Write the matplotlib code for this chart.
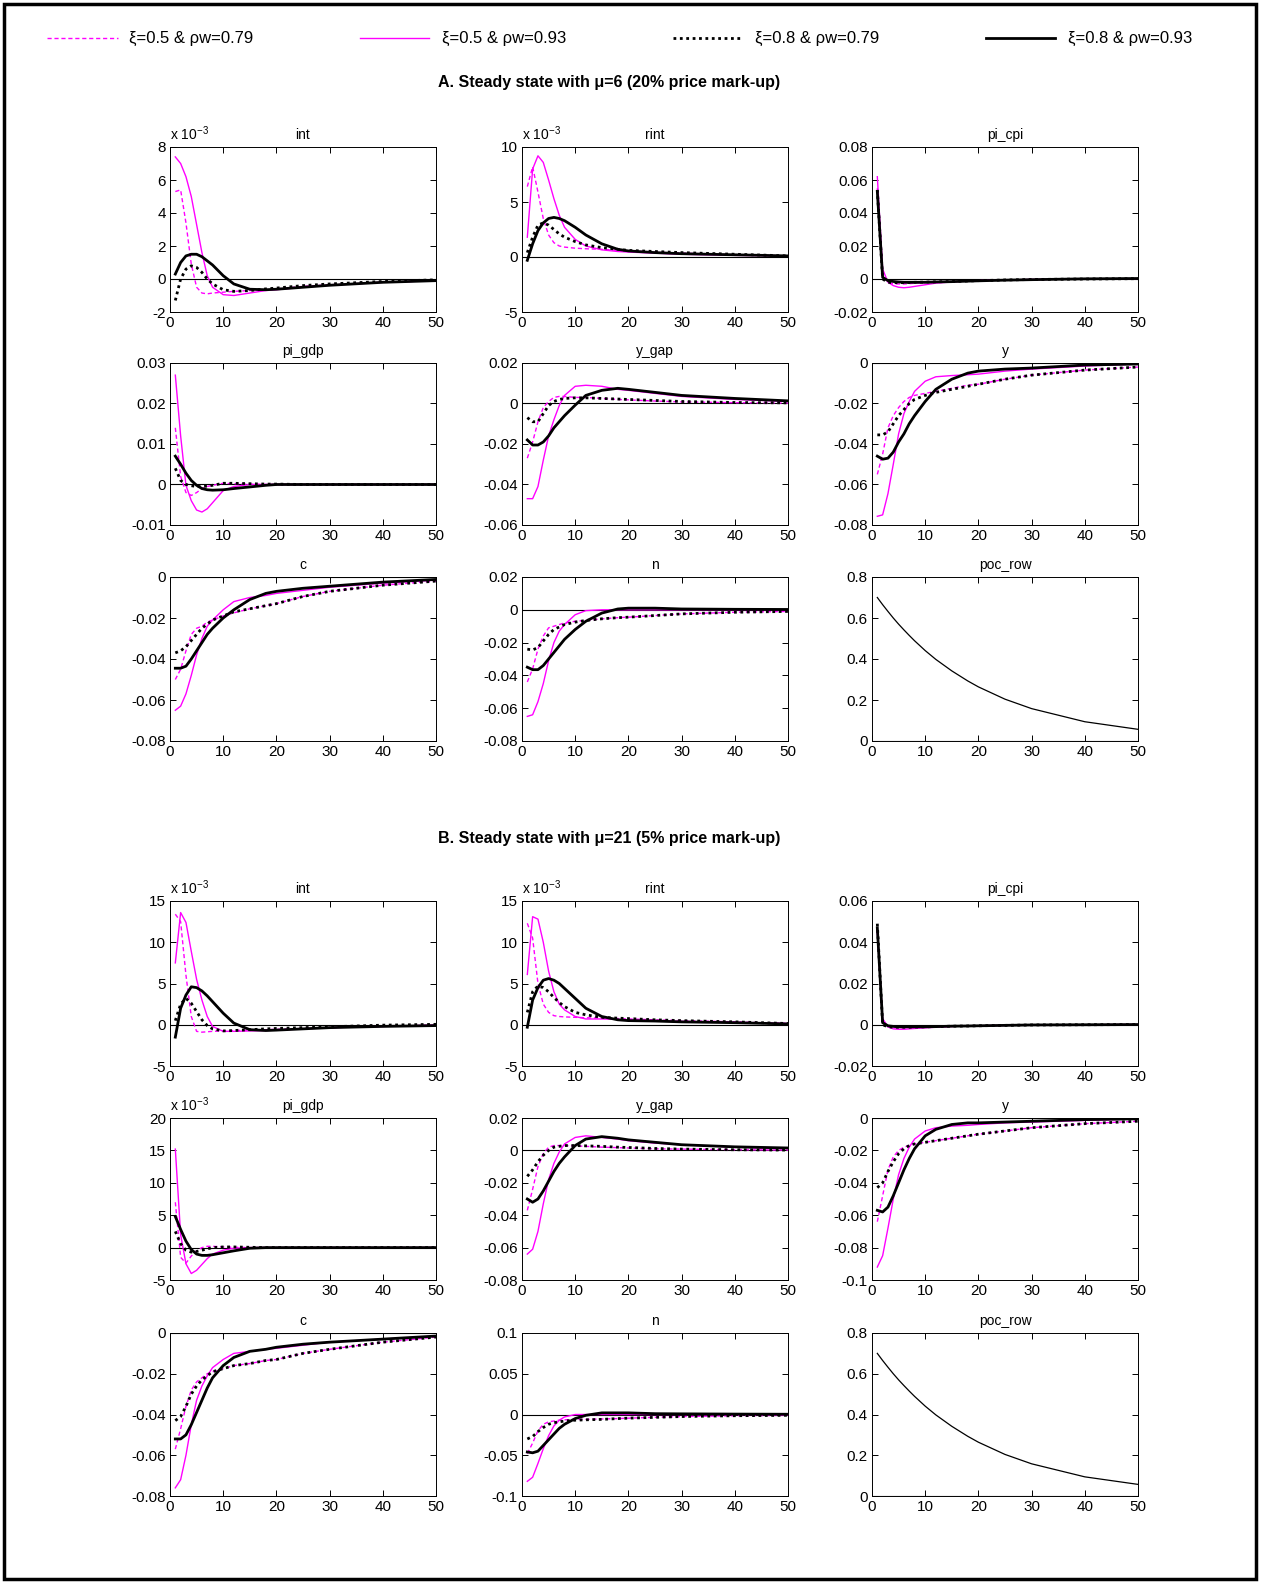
import matplotlib
matplotlib.use("Agg")
import matplotlib.pyplot as plt
from matplotlib.lines import Line2D
from matplotlib.patches import Rectangle
from matplotlib.ticker import FuncFormatter

plt.rcParams['font.family'] = ['Liberation Sans', 'DejaVu Sans']
plt.rcParams['mathtext.fontset'] = 'custom'
plt.rcParams['mathtext.rm'] = 'Liberation Sans'

T = [1, 2, 3, 4, 5, 6, 7, 8, 10, 12, 15, 18, 20, 25, 30, 40, 50]

labels = ["ξ=0.5 & ρw=0.79", "ξ=0.5 & ρw=0.93", "ξ=0.8 & ρw=0.79", "ξ=0.8 & ρw=0.93"]

# ---- A. mu=6 ----
a_int_m79 = [5.3, 5.4, 3.4, 0.9, -0.5, -0.85, -0.9, -0.85, -0.8, -0.75, -0.7, -0.65, -0.6, -0.45, -0.35, -0.2, -0.1]
a_int_m93 = [7.4, 7.0, 6.2, 5.0, 3.3, 1.6, 0.2, -0.5, -0.95, -1.0, -0.85, -0.7, -0.65, -0.5, -0.38, -0.2, -0.1]
a_int_b79 = [-1.3, 0.0, 0.6, 0.8, 0.7, 0.4, 0.0, -0.3, -0.65, -0.75, -0.7, -0.6, -0.55, -0.4, -0.3, -0.15, -0.05]
a_int_b93 = [0.3, 1.0, 1.4, 1.5, 1.5, 1.35, 1.1, 0.85, 0.2, -0.3, -0.62, -0.65, -0.62, -0.5, -0.38, -0.2, -0.1]

a_rint_m79 = [6.4, 8.2, 5.9, 3.5, 2.0, 1.3, 1.0, 0.9, 0.8, 0.75, 0.7, 0.6, 0.55, 0.45, 0.35, 0.2, 0.1]
a_rint_m93 = [1.8, 8.0, 9.2, 8.6, 7.0, 5.3, 3.8, 2.7, 1.6, 1.0, 0.65, 0.5, 0.45, 0.35, 0.25, 0.15, 0.1]
a_rint_b79 = [0.4, 1.8, 2.9, 3.1, 2.9, 2.5, 2.1, 1.8, 1.4, 1.1, 0.85, 0.7, 0.6, 0.5, 0.4, 0.25, 0.1]
a_rint_b93 = [-0.3, 1.2, 2.4, 3.1, 3.5, 3.6, 3.5, 3.3, 2.7, 2.0, 1.2, 0.7, 0.55, 0.4, 0.3, 0.2, 0.1]

a_cpi_m79 = [0.055, 0.002, -0.002, -0.003, -0.003, -0.003, -0.0028, -0.0026, -0.0022, -0.0019, -0.0015, -0.0012, -0.001, -0.0006, -0.0003, 0.0, 0.0002]
a_cpi_m93 = [0.062, 0.006, -0.002, -0.004, -0.005, -0.0053, -0.005, -0.0045, -0.0035, -0.0025, -0.0018, -0.0012, -0.001, -0.0006, -0.0003, 0.0, 0.0002]
a_cpi_b79 = [0.054, 0.0, -0.002, -0.0022, -0.0022, -0.0022, -0.0021, -0.002, -0.0019, -0.0017, -0.0015, -0.0012, -0.001, -0.0006, -0.0003, 0.0, 0.0002]
a_cpi_b93 = [0.053, 0.001, -0.001, -0.0015, -0.0018, -0.002, -0.002, -0.002, -0.002, -0.0018, -0.0016, -0.0013, -0.0011, -0.0007, -0.0004, 0.0001, 0.0003]

a_gdp_m79 = [0.014, 0.002, -0.002, -0.0027, -0.002, -0.001, -0.0005, -0.0002, 0.0003, 0.0002, 0.0001, 0.0, 0.0, 0.0, 0.0, 0.0, 0.0]
a_gdp_m93 = [0.027, 0.012, -0.0002, -0.004, -0.0063, -0.0068, -0.006, -0.0045, -0.0015, -0.0005, 0.0, 0.0, 0.0, 0.0, 0.0, 0.0, 0.0]
a_gdp_b79 = [0.004, 0.001, 0.0, -0.0003, -0.0005, -0.0005, -0.0004, -0.0002, 0.0003, 0.0003, 0.0002, 0.0001, 0.0001, 0.0, 0.0, 0.0, 0.0]
a_gdp_b93 = [0.007, 0.005, 0.0028, 0.001, -0.0002, -0.001, -0.0013, -0.0014, -0.0013, -0.001, -0.0006, -0.0002, 0.0, 0.0, 0.0, 0.0, 0.0]

a_ygap_m79 = [-0.027, -0.019, -0.009, -0.002, 0.001, 0.003, 0.0035, 0.0035, 0.003, 0.003, 0.0025, 0.002, 0.0018, 0.0012, 0.0008, 0.0004, 0.0002]
a_ygap_m93 = [-0.047, -0.047, -0.041, -0.028, -0.016, -0.008, -0.001, 0.004, 0.0085, 0.009, 0.0085, 0.007, 0.0065, 0.005, 0.0035, 0.002, 0.001]
a_ygap_b79 = [-0.007, -0.009, -0.009, -0.005, -0.001, 0.001, 0.002, 0.0025, 0.0028, 0.0028, 0.0025, 0.0022, 0.002, 0.0015, 0.001, 0.0005, 0.0003]
a_ygap_b93 = [-0.018, -0.0205, -0.0205, -0.019, -0.016, -0.012, -0.009, -0.006, -0.0008, 0.004, 0.0065, 0.0075, 0.007, 0.0055, 0.004, 0.0025, 0.0013]

a_y_m79 = [-0.055, -0.045, -0.032, -0.026, -0.022, -0.019, -0.017, -0.016, -0.015, -0.014, -0.0125, -0.011, -0.0105, -0.008, -0.006, -0.0035, -0.002]
a_y_m93 = [-0.0757, -0.075, -0.0645, -0.050, -0.035, -0.025, -0.019, -0.014, -0.009, -0.0068, -0.0062, -0.0058, -0.0055, -0.004, -0.003, -0.0015, -0.0005]
a_y_b79 = [-0.0355, -0.0355, -0.034, -0.030, -0.026, -0.023, -0.020, -0.018, -0.016, -0.0145, -0.013, -0.0115, -0.0105, -0.008, -0.006, -0.0035, -0.002]
a_y_b93 = [-0.046, -0.0475, -0.047, -0.044, -0.039, -0.035, -0.030, -0.026, -0.019, -0.013, -0.008, -0.005, -0.004, -0.003, -0.0025, -0.001, -0.0005]

a_c_m79 = [-0.050, -0.045, -0.036, -0.028, -0.025, -0.024, -0.022, -0.021, -0.019, -0.0175, -0.0155, -0.014, -0.013, -0.0095, -0.007, -0.004, -0.002]
a_c_m93 = [-0.065, -0.063, -0.057, -0.048, -0.038, -0.030, -0.024, -0.021, -0.016, -0.012, -0.010, -0.009, -0.008, -0.0065, -0.005, -0.003, -0.0015]
a_c_b79 = [-0.037, -0.036, -0.034, -0.031, -0.028, -0.025, -0.023, -0.021, -0.019, -0.017, -0.0155, -0.014, -0.013, -0.0095, -0.007, -0.004, -0.002]
a_c_b93 = [-0.0445, -0.0445, -0.0435, -0.040, -0.036, -0.032, -0.028, -0.025, -0.020, -0.016, -0.011, -0.008, -0.007, -0.0055, -0.0045, -0.0025, -0.0012]

a_n_m79 = [-0.044, -0.036, -0.024, -0.016, -0.011, -0.010, -0.009, -0.008, -0.007, -0.0065, -0.0055, -0.0048, -0.0045, -0.0035, -0.0025, -0.0015, -0.001]
a_n_m93 = [-0.065, -0.064, -0.056, -0.045, -0.031, -0.020, -0.013, -0.009, -0.003, -0.0005, 0.0, 0.0, 0.0, 0.0, 0.0, 0.0, 0.0]
a_n_b79 = [-0.024, -0.0245, -0.023, -0.019, -0.015, -0.012, -0.0105, -0.009, -0.0075, -0.0065, -0.0055, -0.0048, -0.0045, -0.0035, -0.0025, -0.0015, -0.001]
a_n_b93 = [-0.035, -0.0365, -0.0365, -0.034, -0.030, -0.026, -0.022, -0.018, -0.012, -0.007, -0.002, 0.0005, 0.001, 0.001, 0.0005, 0.0003, 0.0002]

poc_row = [0.70, 0.665, 0.632, 0.600, 0.570, 0.542, 0.515, 0.489, 0.441, 0.398, 0.342, 0.293, 0.264, 0.204, 0.158, 0.094, 0.057]

# ---- B. mu=21 ----
b_int_m79 = [13.4, 12.5, 6.0, 1.0, -0.8, -0.9, -0.85, -0.8, -0.75, -0.7, -0.65, -0.6, -0.55, -0.45, -0.35, -0.2, -0.05]
b_int_m93 = [7.5, 13.6, 12.4, 8.9, 5.5, 3.0, 1.0, -0.2, -0.8, -0.8, -0.75, -0.7, -0.65, -0.5, -0.35, -0.2, -0.05]
b_int_b79 = [0.5, 2.5, 3.2, 2.6, 1.6, 0.6, -0.1, -0.5, -0.75, -0.7, -0.6, -0.5, -0.45, -0.35, -0.25, -0.05, 0.05]
b_int_b93 = [-1.5, 2.0, 3.6, 4.6, 4.5, 4.1, 3.5, 2.8, 1.4, 0.2, -0.6, -0.7, -0.65, -0.5, -0.35, -0.2, -0.1]

b_rint_m79 = [12.3, 10.5, 5.0, 2.5, 1.5, 1.1, 1.0, 0.95, 0.9, 0.85, 0.8, 0.75, 0.7, 0.6, 0.5, 0.35, 0.15]
b_rint_m93 = [6.1, 13.1, 12.8, 10.0, 6.5, 4.0, 2.5, 1.8, 1.0, 0.7, 0.7, 0.65, 0.6, 0.5, 0.4, 0.3, 0.15]
b_rint_b79 = [1.5, 4.0, 4.7, 4.5, 4.0, 3.3, 2.7, 2.2, 1.5, 1.2, 0.9, 0.8, 0.75, 0.6, 0.5, 0.35, 0.15]
b_rint_b93 = [-0.3, 3.0, 4.5, 5.4, 5.6, 5.4, 5.0, 4.4, 3.2, 2.0, 1.0, 0.6, 0.5, 0.45, 0.35, 0.25, 0.1]

b_cpi_m79 = [0.045, 0.001, -0.001, -0.0015, -0.0015, -0.0015, -0.0014, -0.0013, -0.0012, -0.001, -0.0008, -0.0006, -0.0005, -0.0003, -0.0001, 0.0, 0.0001]
b_cpi_m93 = [0.046, 0.003, -0.001, -0.002, -0.0022, -0.0022, -0.002, -0.0018, -0.0015, -0.0012, -0.0008, -0.0006, -0.0005, -0.0003, -0.0001, 0.0, 0.0001]
b_cpi_b79 = [0.049, 0.0, -0.001, -0.0012, -0.0012, -0.0012, -0.0012, -0.0011, -0.001, -0.0009, -0.0007, -0.0006, -0.0005, -0.0003, -0.0001, 0.0, 0.0001]
b_cpi_b93 = [0.047, 0.001, -0.0005, -0.0008, -0.001, -0.001, -0.001, -0.001, -0.001, -0.0009, -0.0007, -0.0006, -0.0005, -0.0003, -0.0001, 0.0, 0.0001]

b_gdp_m79 = [7.0, -1.5, -2.4, -1.3, -0.5, 0.0, 0.2, 0.2, 0.1, 0.05, 0.0, 0.0, 0.0, 0.0, 0.0, 0.0, 0.0]
b_gdp_m93 = [15.2, 2.0, -2.5, -4.0, -3.5, -2.6, -1.7, -1.0, -0.4, -0.1, 0.0, 0.0, 0.0, 0.0, 0.0, 0.0, 0.0]
b_gdp_b79 = [2.5, 0.6, -0.4, -0.7, -0.6, -0.4, -0.2, 0.0, 0.1, 0.1, 0.05, 0.0, 0.0, 0.0, 0.0, 0.0, 0.0]
b_gdp_b93 = [4.8, 2.8, 1.0, -0.3, -1.0, -1.2, -1.2, -1.1, -0.8, -0.5, -0.1, 0.0, 0.0, 0.0, 0.0, 0.0, 0.0]

b_ygap_m79 = [-0.037, -0.024, -0.010, -0.002, 0.002, 0.003, 0.003, 0.003, 0.0028, 0.0025, 0.002, 0.0017, 0.0015, 0.001, 0.0008, 0.0004, 0.0002]
b_ygap_m93 = [-0.064, -0.061, -0.050, -0.033, -0.018, -0.008, -0.001, 0.004, 0.008, 0.009, 0.008, 0.007, 0.006, 0.0045, 0.0035, 0.002, 0.001]
b_ygap_b79 = [-0.016, -0.012, -0.007, -0.003, 0.0, 0.002, 0.0025, 0.003, 0.003, 0.0028, 0.0025, 0.002, 0.0018, 0.0012, 0.0008, 0.0004, 0.0002]
b_ygap_b93 = [-0.030, -0.032, -0.030, -0.025, -0.019, -0.013, -0.008, -0.004, 0.003, 0.007, 0.0085, 0.0075, 0.0065, 0.005, 0.0035, 0.0022, 0.0015]

b_y_m79 = [-0.064, -0.048, -0.032, -0.024, -0.020, -0.018, -0.017, -0.016, -0.015, -0.014, -0.0125, -0.011, -0.010, -0.008, -0.006, -0.0035, -0.002]
b_y_m93 = [-0.092, -0.085, -0.068, -0.050, -0.035, -0.025, -0.018, -0.013, -0.008, -0.006, -0.005, -0.0045, -0.004, -0.003, -0.0025, -0.0015, -0.0005]
b_y_b79 = [-0.043, -0.040, -0.033, -0.027, -0.022, -0.019, -0.017, -0.016, -0.015, -0.014, -0.0125, -0.011, -0.010, -0.008, -0.006, -0.0035, -0.002]
b_y_b93 = [-0.057, -0.058, -0.055, -0.048, -0.040, -0.032, -0.025, -0.019, -0.011, -0.007, -0.004, -0.003, -0.003, -0.0025, -0.002, -0.001, -0.0005]

b_c_m79 = [-0.057, -0.047, -0.036, -0.028, -0.024, -0.022, -0.020, -0.019, -0.0175, -0.016, -0.015, -0.0135, -0.013, -0.010, -0.008, -0.0045, -0.002]
b_c_m93 = [-0.076, -0.072, -0.060, -0.045, -0.033, -0.026, -0.021, -0.017, -0.013, -0.010, -0.009, -0.008, -0.0075, -0.006, -0.0045, -0.003, -0.0015]
b_c_b79 = [-0.043, -0.041, -0.036, -0.030, -0.026, -0.023, -0.021, -0.019, -0.0175, -0.016, -0.015, -0.0135, -0.013, -0.010, -0.008, -0.0045, -0.002]
b_c_b93 = [-0.052, -0.052, -0.050, -0.045, -0.039, -0.033, -0.027, -0.022, -0.016, -0.012, -0.009, -0.008, -0.007, -0.0055, -0.0045, -0.003, -0.0015]

b_n_m79 = [-0.048, -0.035, -0.020, -0.012, -0.009, -0.008, -0.007, -0.0065, -0.006, -0.006, -0.0055, -0.005, -0.0045, -0.0035, -0.0025, -0.0015, -0.001]
b_n_m93 = [-0.082, -0.077, -0.060, -0.042, -0.026, -0.014, -0.007, -0.003, 0.0, 0.0, 0.0, 0.0, 0.0, 0.0, 0.0, 0.0, 0.0]
b_n_b79 = [-0.030, -0.027, -0.021, -0.016, -0.012, -0.010, -0.009, -0.008, -0.007, -0.0065, -0.006, -0.005, -0.0045, -0.0035, -0.0025, -0.0015, -0.001]
b_n_b93 = [-0.046, -0.047, -0.045, -0.038, -0.031, -0.024, -0.017, -0.012, -0.005, -0.001, 0.002, 0.002, 0.002, 0.001, 0.0008, 0.0005, 0.0003]

# (title, series, ylim, ytick step, scaled by 1e-3)
panels_a = [
    ("int", [a_int_m79, a_int_m93, a_int_b79, a_int_b93], (-2, 8), 2, True),
    ("rint", [a_rint_m79, a_rint_m93, a_rint_b79, a_rint_b93], (-5, 10), 5, True),
    ("pi_cpi", [a_cpi_m79, a_cpi_m93, a_cpi_b79, a_cpi_b93], (-0.02, 0.08), 0.02, False),
    ("pi_gdp", [a_gdp_m79, a_gdp_m93, a_gdp_b79, a_gdp_b93], (-0.01, 0.03), 0.01, False),
    ("y_gap", [a_ygap_m79, a_ygap_m93, a_ygap_b79, a_ygap_b93], (-0.06, 0.02), 0.02, False),
    ("y", [a_y_m79, a_y_m93, a_y_b79, a_y_b93], (-0.08, 0), 0.02, False),
    ("c", [a_c_m79, a_c_m93, a_c_b79, a_c_b93], (-0.08, 0), 0.02, False),
    ("n", [a_n_m79, a_n_m93, a_n_b79, a_n_b93], (-0.08, 0.02), 0.02, False),
    ("poc_row", [poc_row], (0, 0.8), 0.2, False),
]
panels_b = [
    ("int", [b_int_m79, b_int_m93, b_int_b79, b_int_b93], (-5, 15), 5, True),
    ("rint", [b_rint_m79, b_rint_m93, b_rint_b79, b_rint_b93], (-5, 15), 5, True),
    ("pi_cpi", [b_cpi_m79, b_cpi_m93, b_cpi_b79, b_cpi_b93], (-0.02, 0.06), 0.02, False),
    ("pi_gdp", [b_gdp_m79, b_gdp_m93, b_gdp_b79, b_gdp_b93], (-5, 20), 5, True),
    ("y_gap", [b_ygap_m79, b_ygap_m93, b_ygap_b79, b_ygap_b93], (-0.08, 0.02), 0.02, False),
    ("y", [b_y_m79, b_y_m93, b_y_b79, b_y_b93], (-0.1, 0), 0.02, False),
    ("c", [b_c_m79, b_c_m93, b_c_b79, b_c_b93], (-0.08, 0), 0.02, False),
    ("n", [b_n_m79, b_n_m93, b_n_b79, b_n_b93], (-0.1, 0.1), 0.05, False),
    ("poc_row", [poc_row], (0, 0.8), 0.2, False),
]

styles = [
    dict(color='#ff00ff', lw=1.0, ls=(0, (3, 2))),
    dict(color='#ff00ff', lw=1.0, ls='-'),
    dict(color='black', lw=2.0, ls=(0, (1, 1.3))),
    dict(color='black', lw=2.0, ls='-'),
]

W, H = 1262, 1583
fig = plt.figure(figsize=(W / 100, H / 100), dpi=100)

col_left = [170, 522, 872]
col_w = 266
rows_a = [(147, 312), (363, 525), (577, 741)]
rows_b = [(901, 1066), (1118, 1280), (1333, 1496)]

fmt = FuncFormatter(lambda v, p: '%g' % round(v, 6))


def draw(ax, title, series, ylim, step, scaled):
    ax.axhline(0, color='black', lw=0.8)
    if len(series) == 1:
        ax.plot(T, series[0], color='black', lw=0.9)
    else:
        for s, st in zip(series, styles):
            ax.plot(T, s, **st)
    ax.set_xlim(0, 50)
    ax.set_ylim(*ylim)
    ax.set_xticks(range(0, 51, 10))
    n = int(round((ylim[1] - ylim[0]) / step))
    ax.set_yticks([ylim[0] + i * step for i in range(n + 1)])
    ax.yaxis.set_major_formatter(fmt)
    ax.tick_params(direction='in', top=True, right=True, length=4, width=0.7,
                   labelsize=11, pad=3)
    for sp in ax.spines.values():
        sp.set_linewidth(0.7)
    ax.set_title(title, fontsize=10, pad=6)
    if scaled:
        ax.text(0, 1.025, r'x 10$^{-3}$', transform=ax.transAxes,
                ha='left', va='bottom', fontsize=10)


for rows, panels in [(rows_a, panels_a), (rows_b, panels_b)]:
    for i, p in enumerate(panels):
        top, bot = rows[i // 3]
        left = col_left[i % 3]
        ax = fig.add_axes([left / W, 1 - bot / H, col_w / W, (bot - top) / H])
        draw(ax, *p)

# legend across the top
leg_x = [(47, 118, 129), (360, 429, 442), (673, 742, 755), (986, 1055, 1068)]
for (x0, x1, xt), st, lab in zip(leg_x, styles, labels):
    fig.add_artist(Line2D([x0 / W, x1 / W], [1 - 38 / H] * 2, **st))
    fig.text(xt / W, 1 - 38 / H, lab, fontsize=12, va='center', ha='left')

fig.text(609 / W, 1 - 82 / H, "A. Steady state with μ=6 (20% price mark-up)",
         fontsize=11.5, fontweight='bold', ha='center', va='center')
fig.text(609 / W, 1 - 838 / H, "B. Steady state with μ=21 (5% price mark-up)",
         fontsize=11.5, fontweight='bold', ha='center', va='center')

fig.add_artist(Rectangle((4 / W, 4 / H), 1252 / W, 1575 / H, transform=fig.transFigure,
                         fill=False, lw=2.5, color='black'))

fig.savefig("out.png", dpi=100)
